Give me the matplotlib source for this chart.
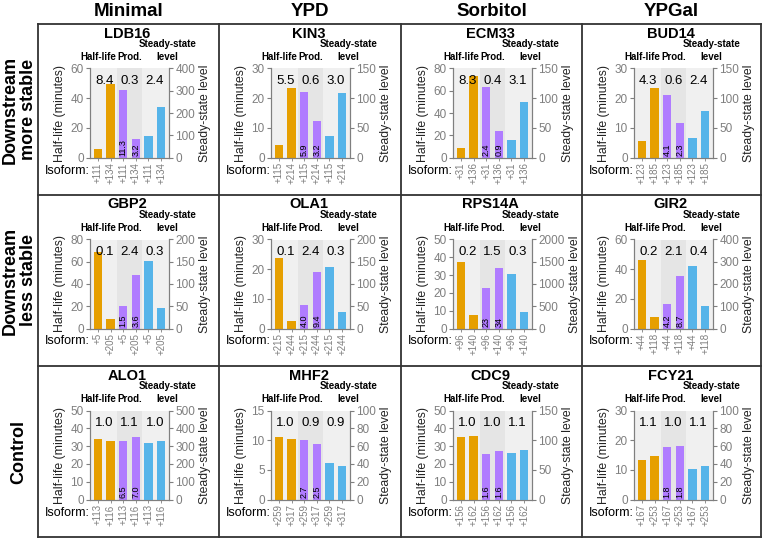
import numpy as np
import matplotlib
matplotlib.use("Agg")
import matplotlib.pyplot as plt
from matplotlib.lines import Line2D
from matplotlib.transforms import blended_transform_factory

plt.rcParams["font.family"] = ["Liberation Sans", "DejaVu Sans"]

# ---- data (row-major: 3 rows x 4 conditions) ----
conditions = ["Minimal", "YPD", "Sorbitol", "YPGal"]
row_labels = ["Downstream\nmore stable", "Downstream\nless stable", "Control"]
genes = ["LDB16", "KIN3", "ECM33", "BUD14",
         "GBP2", "OLA1", "RPS14A", "GIR2",
         "ALO1", "MHF2", "CDC9", "FCY21"]
isoforms = [["+111", "+134"], ["+115", "+214"], ["+31", "+136"], ["+123", "+185"],
            ["+5", "+205"], ["+215", "+244"], ["+96", "+140"], ["+44", "+118"],
            ["+113", "+116"], ["+259", "+317"], ["+156", "+162"], ["+167", "+253"]]
half_life = [[5.9, 49.3], [4.3, 23.5], [8.8, 73.4], [5.4, 23.5],
             [69, 8.7], [23.8, 2.6], [37.3, 7.5], [45.9, 7.8],
             [34.1, 32.6], [10.55, 10.2], [35, 35.6], [13.4, 14.8]]
prod_height = [[45.5, 12.8], [22.1, 12.2], [63.4, 24.2], [21.2, 11.7],
               [20.5, 48], [8.0, 18.9], [23, 34.1], [16.8, 35.1],
               [32.6, 35], [10.1, 9.4], [25.8, 27], [17.75, 18]]
prod_labels = [["11.3", "3.2"], ["5.9", "3.2"], ["2.4", "0.9"], ["4.1", "2.3"],
               ["1.5", "3.6"], ["4.0", "9.4"], ["23", "34"], ["4.2", "8.7"],
               ["6.5", "7.0"], ["2.7", "2.5"], ["1.6", "1.6"], ["1.8", "1.8"]]
steady = [[95, 228], [36.5, 109], [30, 93], [32.3, 78.7],
          [152.6, 45], [138, 36], [1231, 373], [279, 100],
          [318, 331], [41.2, 37.5], [78.7, 83], [34.5, 38.2]]
ratios = [["8.4", "0.3", "2.4"], ["5.5", "0.6", "3.0"], ["8.3", "0.4", "3.1"], ["4.3", "0.6", "2.4"],
          ["0.1", "2.4", "0.3"], ["0.1", "2.4", "0.3"], ["0.2", "1.5", "0.3"], ["0.2", "2.1", "0.4"],
          ["1.0", "1.1", "1.0"], ["1.0", "0.9", "0.9"], ["1.0", "1.0", "1.1"], ["1.1", "1.0", "1.1"]]
left_max = [60, 30, 80, 30, 80, 30, 50, 60, 50, 15, 50, 30]
left_step = [20, 10, 20, 10, 20, 10, 10, 20, 10, 5, 10, 10]
right_max = [400, 150, 150, 150, 200, 200, 2000, 400, 500, 100, 150, 100]
right_step = [100, 50, 50, 50, 50, 50, 500, 100, 100, 20, 50, 20]

C_HL = "#E69F00"
C_PROD = "#B07CFF"
C_SS = "#56B4E9"
GRAY = "#7f7f7f"

W, H = 763, 538
fig = plt.figure(figsize=(W / 100, H / 100), dpi=100)

col_x = [38, 219, 401, 582, 761]
row_y = [24, 195, 366, 537]


def fx(px):
    return px / W


def fy(py):
    return 1 - py / H


# grid
for xx in col_x:
    fig.add_artist(Line2D([fx(xx), fx(xx)], [fy(row_y[0]), fy(row_y[-1])],
                          color="#333333", lw=1.3))
for yy in row_y:
    fig.add_artist(Line2D([fx(col_x[0]), fx(col_x[-1])], [fy(yy), fy(yy)],
                          color="#333333", lw=1.3))

for c, name in enumerate(conditions):
    fig.text(fx((col_x[c] + col_x[c + 1]) / 2), fy(11), name, ha="center",
             va="center", fontsize=13.5, fontweight="bold")
for r, lab in enumerate(row_labels):
    fig.text(fx(19), fy((row_y[r] + row_y[r + 1]) / 2), lab, ha="center",
             va="center", rotation=90, fontsize=13, fontweight="bold",
             linespacing=1.1)

x = np.arange(6)
for i, gene in enumerate(genes):
    r, c = divmod(i, 4)
    left = col_x[c] + 52
    top = row_y[r] + 44.5
    fig.text(fx((col_x[c] + col_x[c + 1]) / 2 - 1), fy(row_y[r] + 9.5), gene,
             ha="center", va="center", fontsize=10.5, fontweight="bold")

    ax = fig.add_axes([fx(left), fy(top + 89), fx(79), 89 / H])
    ax2 = ax.twinx()

    ax.axvspan(-0.63, 1.5, color="#f0f0f0", zorder=0, lw=0)
    ax.axvspan(1.5, 3.5, color="#e5e5e5", zorder=0, lw=0)
    ax.axvspan(3.5, 5.63, color="#f0f0f0", zorder=0, lw=0)

    ax.bar(x[:2], half_life[i], width=0.68, color=C_HL, zorder=2)
    ax.bar(x[2:4], prod_height[i], width=0.68, color=C_PROD, zorder=2)
    ax2.bar(x[4:], steady[i], width=0.68, color=C_SS, zorder=2)

    ax.set_xlim(-0.63, 5.63)
    ax.set_ylim(0, left_max[i])
    ax2.set_ylim(0, right_max[i])
    ax.set_yticks(np.arange(0, left_max[i] + 1e-9, left_step[i]))
    ax2.set_yticks(np.arange(0, right_max[i] + 1e-9, right_step[i]))
    ax.set_xticks(x)
    ax.set_xticklabels(isoforms[i] * 3, rotation=90, fontsize=7, color=GRAY)

    for a in (ax, ax2):
        a.spines["top"].set_visible(False)
        for s in ("left", "right", "bottom"):
            a.spines[s].set_color(GRAY)
            a.spines[s].set_linewidth(0.8)
        a.tick_params(axis="y", colors=GRAY, labelsize=8.5, length=3,
                      width=0.8, pad=1.5)
    ax.tick_params(axis="x", length=2, width=0.6, colors=GRAY, pad=1.5)

    ax.set_ylabel("Half-life (minutes)", fontsize=8.8, color="#222222", labelpad=3)
    ax2.set_ylabel("Steady-state level", fontsize=8.8, color="#222222", labelpad=3)

    trans = blended_transform_factory(ax.transData, ax.transAxes)
    for k, txt in enumerate(ratios[i]):
        ax.text(0.5 + 2 * k, 0.86, txt, transform=trans, ha="center",
                va="center", fontsize=9.5, zorder=5)
    for k, txt in enumerate(prod_labels[i]):
        ax.text(2 + k, 0.015, txt, transform=trans, ha="center", va="bottom",
                rotation=90, fontsize=6.5, zorder=5)

    ax.text(0.0, 1.13, "Half-life", transform=trans, ha="center", va="center",
            fontsize=7, fontweight="bold")
    ax.text(2.5, 1.13, "Prod.", transform=trans, ha="center", va="center",
            fontsize=7, fontweight="bold")
    ax.text(5.5, 1.13, "level", transform=trans, ha="center", va="center",
            fontsize=7, fontweight="bold")
    ax.text(5.5, 1.27, "Steady-state", transform=trans, ha="center",
            va="center", fontsize=7, fontweight="bold")
    ax.annotate("Isoform:", xy=(0, 0), xycoords="axes fraction",
                xytext=(0, -13), textcoords="offset pixels", ha="right",
                va="center", fontsize=9)
    ax2.set_zorder(ax.get_zorder() + 1)
    ax2.patch.set_visible(False)

fig.savefig("out.png", dpi=100)
